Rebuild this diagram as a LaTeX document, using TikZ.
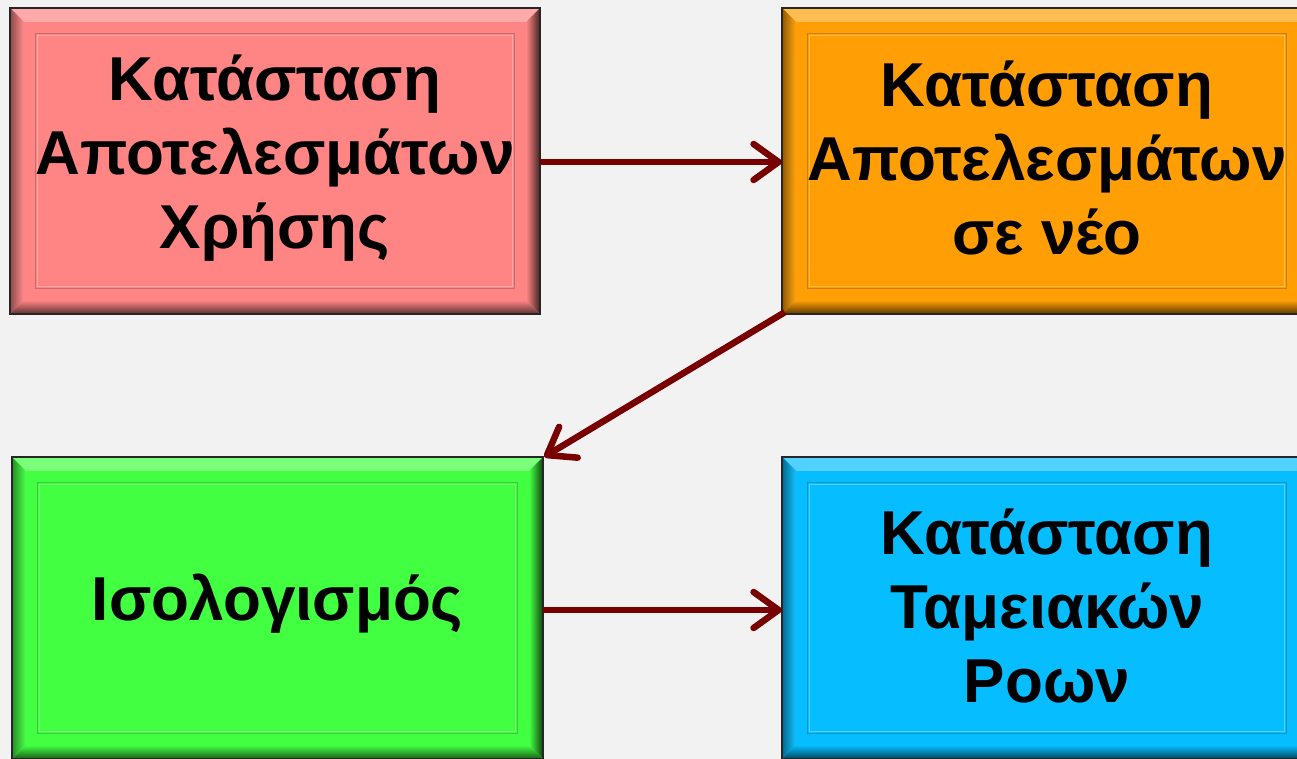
\documentclass[tikz,border=0pt]{standalone}
\usepackage{fontspec}
\setmainfont{Liberation Sans}
\usetikzlibrary{arrows.meta,calc}
\definecolor{bgc}{HTML}{F2F2F2}
\definecolor{redc}{HTML}{FF8585}
\definecolor{orangec}{HTML}{FF9F05}
\definecolor{greenc}{HTML}{42FF42}
\definecolor{bluec}{HTML}{05BDFF}
\definecolor{arrowc}{HTML}{780000}
\tikzset{
  panel/.style={rectangle, inner sep=0pt, align=center,
    font=\fontsize{62}{74}\selectfont\bfseries, text=black},
  link/.style={draw=arrowc, line width=6.5pt,
    -{Straight Barb[length=25pt,width=36pt,round]}},
}
\newcommand{\bevelbox}[2]{%
  % top band
  \fill[#2!70!white] (#1.north west) -- (#1.north east)
    -- ([shift={(-14pt,-14pt)}]#1.north east) -- ([shift={(14pt,-14pt)}]#1.north west) -- cycle;
  % left band
  \shade[left color=#2!55!black, right color=#2!95!white] (#1.north west)
    -- ([shift={(14pt,-14pt)}]#1.north west) -- ([shift={(14pt,14pt)}]#1.south west)
    -- (#1.south west) -- cycle;
  % right band
  \shade[left color=#2, right color=#2!25!black] (#1.north east)
    -- ([shift={(-14pt,-14pt)}]#1.north east) -- ([shift={(-14pt,14pt)}]#1.south east)
    -- (#1.south east) -- cycle;
  % bottom band
  \shade[top color=#2, bottom color=#2!35!black] (#1.south west)
    -- ([shift={(14pt,14pt)}]#1.south west) -- ([shift={(-14pt,14pt)}]#1.south east)
    -- (#1.south east) -- cycle;
  % inner rim
  \draw[#2!80!black, line width=1.2pt]
    ([shift={(26pt,-26pt)}]#1.north west) rectangle ([shift={(-26pt,26pt)}]#1.south east);
  \draw[#2!70!white, line width=0.8pt]
    ([shift={(27.5pt,-27.5pt)}]#1.north west) rectangle ([shift={(-27.5pt,27.5pt)}]#1.south east);
  % outer border
  \draw[black!85, line width=1.6pt] (#1.north west) rectangle (#1.south east);
}
\begin{document}
\begin{tikzpicture}[x=1pt,y=-1pt]
\fill[bgc] (0,0) rectangle (1297,759);
\useasboundingbox (0,0) rectangle (1297,759);
\clip (0,0) rectangle (1297,759);

\node[panel, fill=redc, minimum width=530pt, minimum height=306pt] (rs) at (275,161) {};
\node[panel, fill=orangec, minimum width=530pt, minimum height=306pt] (rn) at (1047,161) {};
\node[panel, fill=greenc, minimum width=531pt, minimum height=302pt] (bal) at (277.5,608) {};
\node[panel, fill=bluec, minimum width=530pt, minimum height=302pt] (cf) at (1047,608) {};

\bevelbox{rs}{redc}
\bevelbox{rn}{orangec}
\bevelbox{bal}{greenc}
\bevelbox{cf}{bluec}

\node[panel] (trs) at ([yshift=3pt]rs.center) {Κατάσταση\\Αποτελεσμάτων\\Χρήσης};
\node[panel] (trn) at ([yshift=3pt]rn.center) {Κατάσταση\\Αποτελεσμάτων\\σε νέο};
\node[panel] (tbal) at ([yshift=4pt]bal.center) {Ισολογισμός};
\node[panel] (tcf) at ([yshift=2pt]cf.center) {Κατάσταση\\Ταμειακών\\Ροων};

\draw[link] (rs.east |- 0,162) -- (rn.west |- 0,162);
\draw[link] ([shift={(3pt,2pt)}]rn.south west) -- ([shift={(1pt,0pt)}]bal.north east);
\draw[link] (bal.east |- 0,610) -- (cf.west |- 0,610);
\end{tikzpicture}
\end{document}
